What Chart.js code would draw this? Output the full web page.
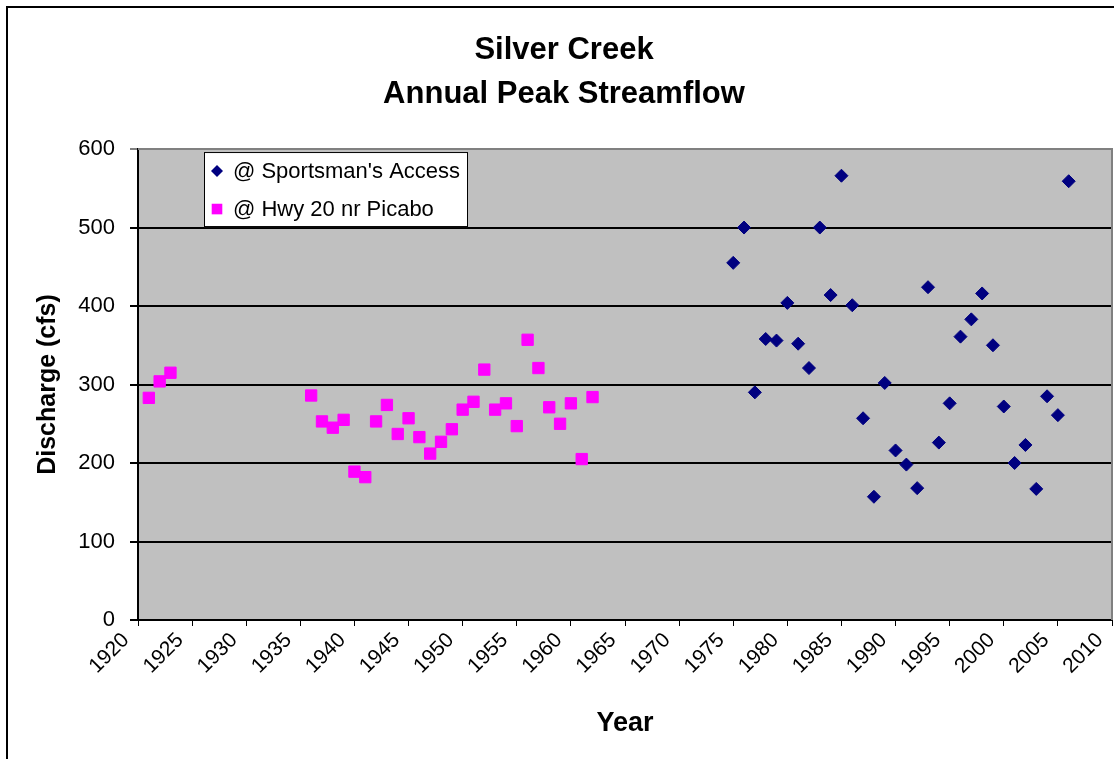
<!DOCTYPE html>
<html>
<head>
<meta charset="utf-8">
<title>Silver Creek Annual Peak Streamflow</title>
<script src="https://cdn.jsdelivr.net/npm/chart.js@4.4.0/dist/chart.umd.min.js"></script>
<style>
  html, body { margin: 0; padding: 0; background: #fff; }
</style>
</head>
<body>
<canvas id="chart" width="1114" height="759"></canvas>
<script>
/* Silver Creek — annual peak streamflow, two gauges */

const SPORTSMAN_YEARS = [
  1975, 1976, 1977, 1978, 1979, 1980, 1981, 1982, 1983, 1984, 1985,
  1986, 1987, 1988, 1989, 1990, 1991, 1992, 1993, 1994, 1995, 1996,
  1997, 1998, 1999, 2000, 2001, 2002, 2003, 2004, 2005, 2006
];
const SPORTSMAN_CFS = [
  455, 500, 290, 358, 356, 404, 352, 321, 500, 414, 566,
  401, 257, 157, 302, 216, 198, 168, 424, 226, 276, 361,
  383, 416, 350, 272, 200, 223, 167, 285, 261, 559
];

const PICABO_YEARS = [
  1921, 1922, 1923,
  1936, 1937, 1938, 1939, 1940, 1941, 1942, 1943, 1944, 1945, 1946,
  1947, 1948, 1949, 1950, 1951, 1952, 1953, 1954, 1955, 1956, 1957,
  1958, 1959, 1960, 1961, 1962
];
const PICABO_CFS = [
  283, 304, 315,
  286, 253, 245, 255, 189, 182, 253, 274, 237, 257, 233,
  212, 227, 243, 268, 278, 319, 268, 276, 247, 357, 321,
  271, 250, 276, 205, 284
];

const SERIES_LABELS = ["@ Sportsman's Access", "@ Hwy 20 nr Picabo"];
const TITLE_LINES = ["Silver Creek", "Annual Peak Streamflow"];
const X_TITLE = "Year";
const Y_TITLE = "Discharge (cfs)";
const X_RANGE = [1920, 2010, 5];
const Y_RANGE = [0, 600, 100];

const FONT = "'Liberation Sans', Arial, Helvetica, sans-serif";

function toPoints(xs, ys) {
  return xs.map((x, i) => ({ x, y: ys[i] }));
}

// grey plot background, drawn under the grid
const plotBackground = {
  id: "plotBackground",
  beforeDraw(chart) {
    const { ctx, chartArea: a } = chart;
    ctx.save();
    ctx.fillStyle = "#c0c0c0";
    ctx.fillRect(a.left, a.top, a.right - a.left, a.bottom - a.top);
    ctx.restore();
  },
  beforeDatasetsDraw(chart) {
    const { ctx, chartArea: a } = chart;
    ctx.save();
    ctx.strokeStyle = "#808080";
    ctx.lineWidth = 2;
    ctx.beginPath();
    ctx.moveTo(a.left, a.top);
    ctx.lineTo(a.right, a.top);
    ctx.lineTo(a.right, a.bottom);
    ctx.stroke();
    ctx.restore();
  }
};

// boxed legend inside the plot + outer frame
const boxedLegend = {
  id: "boxedLegend",
  afterDraw(chart) {
    const { ctx, chartArea: a } = chart;
    const left = a.left + 66, top = a.top + 3, w = 264, h = 75;
    ctx.save();
    ctx.fillStyle = "#fff";
    ctx.fillRect(left, top, w, h);
    ctx.strokeStyle = "#000";
    ctx.lineWidth = 1;
    ctx.strokeRect(left + 0.5, top + 0.5, w - 1, h - 1);
    ctx.font = "22px " + FONT;
    ctx.textBaseline = "middle";
    chart.data.datasets.forEach((ds, i) => {
      const y = top + 19 + i * 38;
      ctx.fillStyle = ds.backgroundColor;
      ctx.strokeStyle = ds.borderColor;
      Chart.helpers.drawPoint(ctx, {
        pointStyle: ds.pointStyle,
        radius: ds.pointStyle === "rect" ? 7.5 : 6,
        rotation: 0,
        borderWidth: 0
      }, left + 13, y);
      ctx.fillStyle = "#000";
      ctx.fillText(ds.label, left + 29, y + 1);
    });
    // frame around the whole chart
    ctx.strokeStyle = "#000";
    ctx.lineWidth = 2;
    ctx.strokeRect(7, 7, 1300, 900);
    ctx.restore();
  }
};

new Chart(document.getElementById("chart"), {
  type: "scatter",
  data: {
    datasets: [
      {
        label: SERIES_LABELS[0],
        data: toPoints(SPORTSMAN_YEARS, SPORTSMAN_CFS),
        pointStyle: "rectRot",
        pointRadius: 6.5,
        pointBorderWidth: 1,
        backgroundColor: "#000080",
        borderColor: "#000080"
      },
      {
        label: SERIES_LABELS[1],
        data: toPoints(PICABO_YEARS, PICABO_CFS),
        pointStyle: "rect",
        pointRadius: 8,
        pointBorderWidth: 1,
        backgroundColor: "#ff00ff",
        borderColor: "#ff00ff"
      }
    ]
  },
  options: {
    responsive: false,
    animation: false,
    devicePixelRatio: 1,
    events: [],
    layout: { autoPadding: false, padding: { left: 16, right: 2, top: 0, bottom: 0 } },
    plugins: {
      legend: { display: false },
      tooltip: { enabled: false },
      title: {
        display: true,
        text: TITLE_LINES,
        color: "#000",
        font: { family: FONT, size: 31, weight: "bold", lineHeight: 1.42 },
        padding: { top: 28, bottom: 33 }
      }
    },
    scales: {
      x: {
        type: "linear",
        min: X_RANGE[0], max: X_RANGE[1],
        afterFit: s => { s.height = 139; s.paddingLeft = 0; s.paddingRight = 0; },
        afterBuildTicks: s => {
          s.ticks = [];
          for (let v = X_RANGE[0]; v <= X_RANGE[1]; v += X_RANGE[2]) s.ticks.push({ value: v });
        },
        ticks: {
          color: "#000",
          font: { family: FONT, size: 21 },
          minRotation: 45, maxRotation: 45,
          autoSkip: false,
          padding: 2,
          labelOffset: -12,
          callback: v => String(v)
        },
        grid: { display: true, drawOnChartArea: false, drawTicks: true, tickLength: 6, color: "#000", lineWidth: 1 },
        border: { display: true, color: "#000", width: 2 },
        title: {
          display: true, text: X_TITLE, color: "#000",
          font: { family: FONT, size: 27, weight: "bold", lineHeight: 1.2 },
          padding: { top: 0, bottom: 19 }
        }
      },
      y: {
        type: "linear",
        min: Y_RANGE[0], max: Y_RANGE[1],
        afterFit: s => { s.width = 122; },
        ticks: {
          stepSize: Y_RANGE[2],
          color: "#000",
          font: { family: FONT, size: 22 },
          padding: 15
        },
        grid: {
          color: c => (c.tick && c.tick.value === Y_RANGE[1]) ? "#808080" : "#000",
          lineWidth: 2,
          tickLength: 8,
          drawTicks: true
        },
        border: { display: true, color: "#000", width: 2 },
        title: {
          display: true, text: Y_TITLE, color: "#000",
          font: { family: FONT, size: 25, weight: "bold", lineHeight: 1.2 },
          padding: { top: 17, bottom: 0 }
        }
      }
    }
  },
  plugins: [plotBackground, boxedLegend]
});
</script>
</body>
</html>
